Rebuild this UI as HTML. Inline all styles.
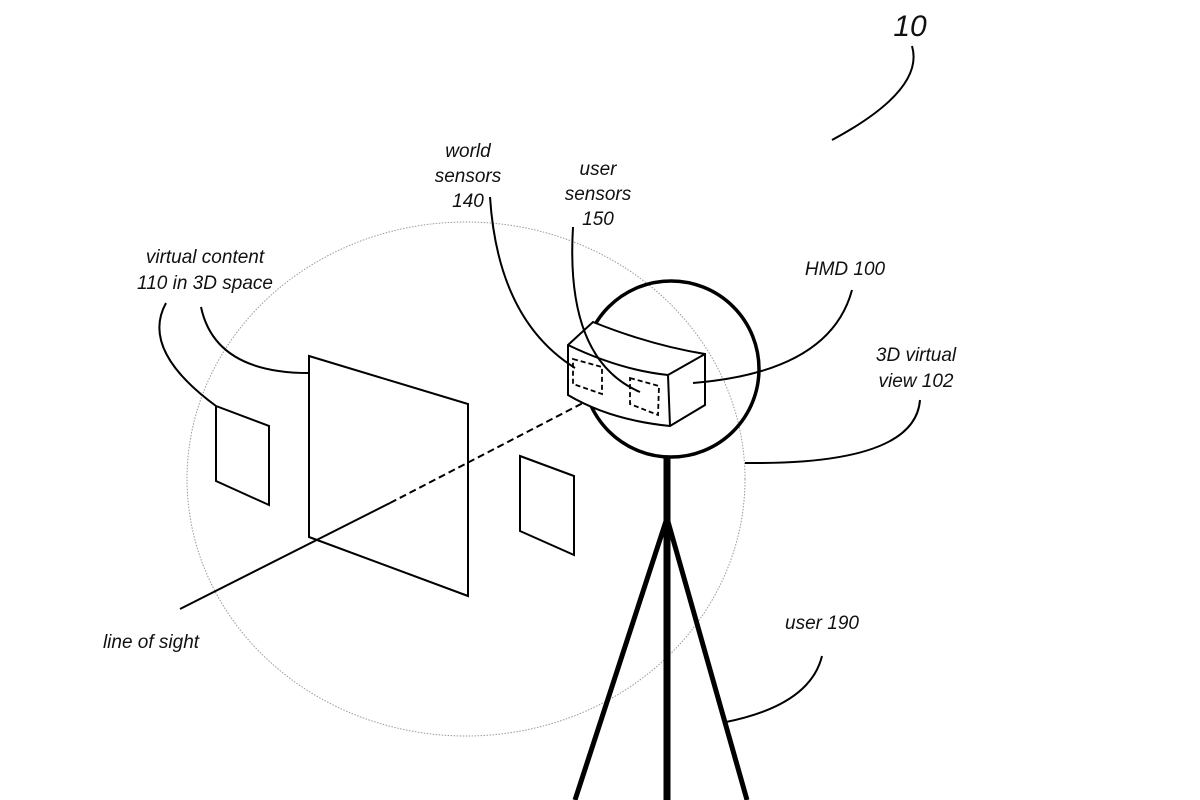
<!DOCTYPE html>
<html><head><meta charset="utf-8"><style>
html,body{margin:0;padding:0;background:#fff;}
svg{display:block;}
text{font-family:"Liberation Sans",sans-serif;font-style:italic;font-size:19px;fill:#111;}
</style></head><body>
<svg width="1200" height="800" viewBox="0 0 1200 800" xmlns="http://www.w3.org/2000/svg">
<rect width="1200" height="800" fill="#fff"/>
<!-- dotted view ellipse -->
<ellipse cx="466" cy="479" rx="279" ry="257" fill="none" stroke="#999" stroke-width="1" stroke-dasharray="1.5 1.5"/>
<g fill="none" stroke="#000" stroke-width="2">
<!-- panels -->
<polygon points="216,406 269,426 269,505 216,481" fill="#fff"/>
<polygon points="309,356 468,404 468,596 309,537" fill="none"/>
<polygon points="520,456 574,476 574,555 520,531" fill="#fff"/>
<!-- line of sight -->
<line x1="180" y1="609" x2="390" y2="503"/>
<line x1="390" y1="503" x2="608" y2="390" stroke-dasharray="7 4"/>
<!-- head -->
<circle cx="671" cy="369" r="88" stroke-width="3.5"/>
<!-- HMD -->
<path d="M568,345 L593,322 Q650,345 705,354 L705,405 L670,426 Q610,420 568,395 Z" fill="#fff"/>
<path d="M568,345 Q620,370 668,375 L705,354 M668,375 L670,426"/>
<polygon points="573,359 602,367 602,394 573,384" stroke-dasharray="5 3" stroke-width="1.8"/>
<polygon points="630,378 659,386 658,415 630,404" stroke-dasharray="5 3" stroke-width="1.8"/>
<!-- leaders -->
<path d="M490,197 Q498,320 575,368"/>
<path d="M573,227 Q565,360 640,392"/>
<path d="M852,290 Q830,372 693,383"/>
<path d="M920,400 Q915,465 745,463"/>
<path d="M822,656 Q810,705 726,722"/>
<path d="M166,303 Q140,350 216,406"/>
<path d="M201,307 Q215,373 309,373"/>
<path d="M912,46 Q925,90 832,140"/>
</g>
<!-- stick body -->
<line x1="667" y1="456" x2="667" y2="800" stroke="#000" stroke-width="7"/>
<line x1="667" y1="518" x2="575" y2="800" stroke="#000" stroke-width="5"/>
<line x1="667" y1="518" x2="747" y2="800" stroke="#000" stroke-width="5"/>
<!-- labels -->
<text x="910" y="36" text-anchor="middle" font-size="30" style="font-size:30px">10</text>
<text x="468" y="157" text-anchor="middle">world</text>
<text x="468" y="182" text-anchor="middle">sensors</text>
<text x="468" y="207" text-anchor="middle">140</text>
<text x="598" y="175" text-anchor="middle">user</text>
<text x="598" y="200" text-anchor="middle">sensors</text>
<text x="598" y="225" text-anchor="middle">150</text>
<text x="205" y="263" text-anchor="middle">virtual content</text>
<text x="205" y="289" text-anchor="middle">110 in 3D space</text>
<text x="845" y="275" text-anchor="middle">HMD 100</text>
<text x="916" y="361" text-anchor="middle">3D virtual</text>
<text x="916" y="387" text-anchor="middle">view 102</text>
<text x="151" y="648" text-anchor="middle">line of sight</text>
<text x="822" y="629" text-anchor="middle">user 190</text>
</svg>
</body></html>
